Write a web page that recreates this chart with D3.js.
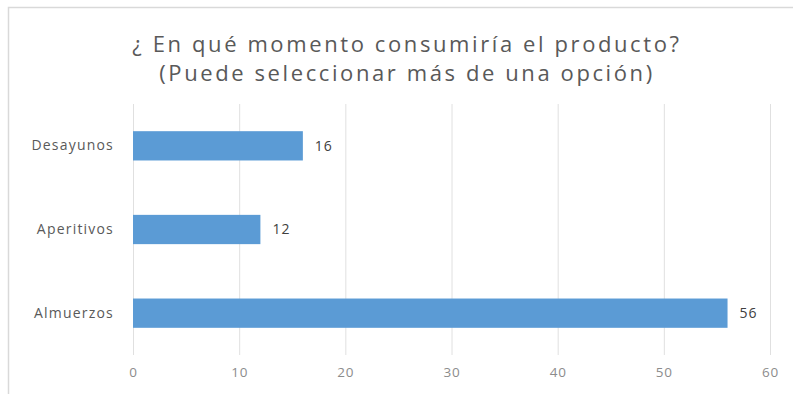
<!DOCTYPE html>
<html>
<head>
<meta charset="utf-8">
<script src="https://cdn.jsdelivr.net/npm/d3@7"></script>
<style>
  html, body { margin: 0; padding: 0; background: #fff; }
  svg { display: block; }
</style>
</head>
<body>
<svg id="chart" width="793" height="394"></svg>
<script>
// Answers to the survey question, top to bottom
const categories = ["Desayunos", "Aperitivos", "Almuerzos"];
const counts = [16, 12, 56];
const xTicks = [0, 10, 20, 30, 40, 50, 60];
const titleLines = ["¿ En qué momento consumiría el producto?", "(Puede seleccionar más de una opción)"];

const svg = d3.select("#chart");
const W = 793, H = 394;
const font = "'Open Sans', 'Noto Sans', sans-serif";

// chart frame
svg.append("rect")
  .attr("x", 8.5).attr("y", 7.5)
  .attr("width", W + 10).attr("height", H + 10)
  .attr("fill", "#fff").attr("stroke", "#d9d9d9").attr("stroke-width", 1.5);

const margin = { left: 133, right: 23, top: 104, bottom: 39 };
const x = d3.scaleLinear().domain([0, 60]).range([margin.left, W - margin.right]);
const y = d3.scaleBand().domain(categories)
  .range([margin.top, H - margin.bottom])
  .paddingInner(0.65).paddingOuter(0.325);

// vertical gridlines
svg.append("g").selectAll("line").data(xTicks).join("line")
  .attr("x1", d => x(d) + 0.5).attr("x2", d => x(d) + 0.5)
  .attr("y1", margin.top).attr("y2", H - margin.bottom)
  .attr("stroke", "#e0e0e0").attr("stroke-width", 1);

// bottom axis labels
const xAxis = d3.axisBottom(x).tickValues(xTicks).tickSize(0).tickPadding(12);
const gx = svg.append("g")
  .attr("transform", `translate(0,${H - margin.bottom})`)
  .call(xAxis);
gx.select(".domain").remove();
gx.selectAll("text")
  .attr("font-family", font).attr("font-size", 13.5).attr("letter-spacing", 0.8)
  .attr("fill", "#8c8c8c");

// category labels
const yAxis = d3.axisLeft(y).tickSize(0).tickPadding(19);
const gy = svg.append("g")
  .attr("transform", `translate(${margin.left},0)`)
  .call(yAxis);
gy.select(".domain").remove();
gy.selectAll("text")
  .attr("font-family", font).attr("font-size", 14).attr("letter-spacing", 1.2)
  .attr("fill", "#595959");

// bars
svg.append("g").selectAll("rect").data(categories).join("rect")
  .attr("x", x(0))
  .attr("y", d => y(d))
  .attr("width", (d, i) => x(counts[i]) - x(0))
  .attr("height", y.bandwidth())
  .attr("fill", "#5b9bd5");

// value labels
svg.append("g").selectAll("text").data(categories).join("text")
  .attr("x", (d, i) => x(counts[i]) + 12)
  .attr("y", d => y(d) + y.bandwidth() / 2)
  .attr("dy", "0.35em")
  .attr("font-family", font).attr("font-size", 14).attr("letter-spacing", 1)
  .attr("fill", "#404040")
  .text((d, i) => counts[i]);

// title
svg.append("g").selectAll("text").data(titleLines).join("text")
  .attr("x", 407)
  .attr("y", (d, i) => 52 + i * 29)
  .attr("text-anchor", "middle")
  .attr("font-family", font).attr("font-size", 22).attr("letter-spacing", 2.6)
  .attr("fill", "#595959")
  .text(d => d);
</script>
</body>
</html>
